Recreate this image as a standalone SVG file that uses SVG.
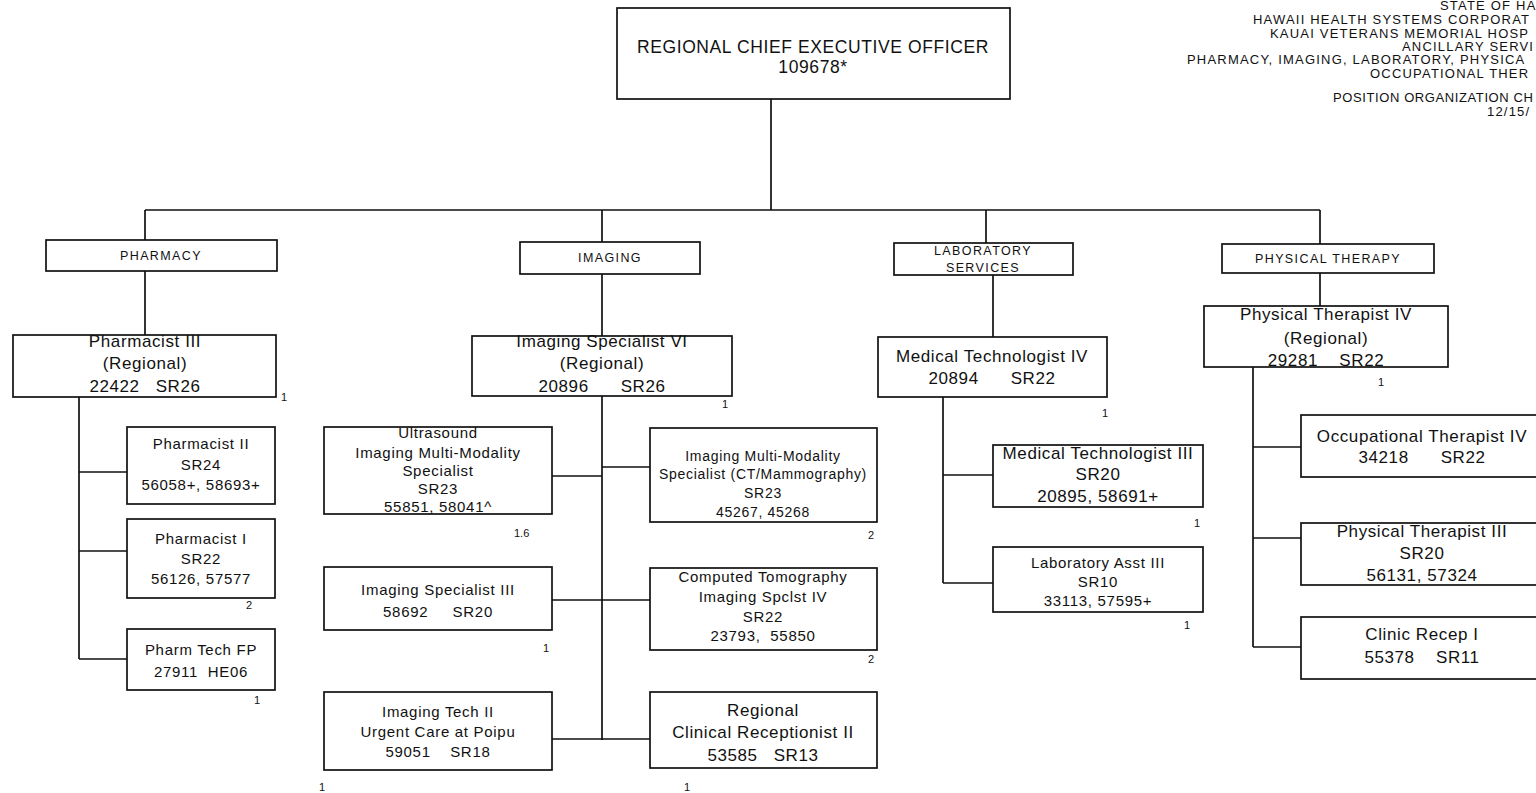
<svg xmlns="http://www.w3.org/2000/svg" width="1536" height="793" viewBox="0 0 1536 793">
<style>
text{font-family:"Liberation Sans",Arial,sans-serif;fill:#111;text-anchor:middle}
.box{fill:#fff;stroke:#111;stroke-width:1.7}
.ln{fill:none;stroke:#111;stroke-width:1.7}
.hdr{font-size:13px;letter-spacing:1.2px;text-anchor:start}
.top{font-size:17.5px;letter-spacing:0.6px}
.dep{font-size:12.5px;letter-spacing:1.4px}
.big{font-size:17px;letter-spacing:0.6px}
.sm{font-size:15px;letter-spacing:0.7px}
.xs{font-size:14px;letter-spacing:0.7px}
.n{font-size:11px;text-anchor:start}
</style>
<rect width="1536" height="793" fill="#fff"/>

<g id="header">
<text class="hdr" x="1440" y="10">STATE OF HA</text>
<text class="hdr" x="1253" y="24">HAWAII HEALTH SYSTEMS CORPORAT</text>
<text class="hdr" x="1270" y="38">KAUAI VETERANS MEMORIAL HOSP</text>
<text class="hdr" x="1402" y="51">ANCILLARY SERVI</text>
<text class="hdr" x="1187" y="64">PHARMACY, IMAGING, LABORATORY, PHYSICA</text>
<text class="hdr" x="1370" y="78">OCCUPATIONAL THER</text>
<text class="hdr" x="1333" y="102" style="letter-spacing:0.6px">POSITION ORGANIZATION CH</text>
<text class="hdr" x="1487" y="116">12/15/</text>
</g>

<g id="connectors">
<path class="ln" d="M771 99V210M145 210H1320"/>
<path class="ln" d="M145 210V240M145 271V335M79 397V659M79 472H127M79 551H127M79 659H127"/>
<path class="ln" d="M602 210V242M602 274V336M602 396V740M552 476H602M552 600H602M552 739H650M602 467H650M602 600H650"/>
<path class="ln" d="M986 210V243M993 275V337M943 397V583M943 475H993M943 583H993"/>
<path class="ln" d="M1320 210V244M1320 273V306M1253 367V647M1253 447H1301M1253 538H1301M1253 647H1301"/>
</g>

<g id="ceo">
<rect class="box" x="617" y="8" width="393" height="91"/>
<text class="top" x="813" y="53">REGIONAL CHIEF EXECUTIVE OFFICER</text>
<text class="top" x="813" y="73">109678*</text>
</g>

<g id="pharmacy">
<rect class="box" x="46" y="240" width="231" height="31"/>
<text class="dep" x="161" y="260">PHARMACY</text>
</g>
<g id="pharmacist3">
<rect class="box" x="13" y="335" width="263" height="62"/>
<text class="big" x="145" y="347">Pharmacist III</text>
<text class="big" x="145" y="369">(Regional)</text>
<text class="big" x="145" y="392" xml:space="preserve">22422   SR26</text>
<text class="n" x="281" y="401">1</text>
</g>
<g id="pharmacist2">
<rect class="box" x="127" y="427" width="148" height="77"/>
<text class="sm" x="201" y="449">Pharmacist II</text>
<text class="sm" x="201" y="470">SR24</text>
<text class="sm" x="201" y="490">56058+, 58693+</text>
</g>
<g id="pharmacist1">
<rect class="box" x="127" y="519" width="148" height="79"/>
<text class="sm" x="201" y="544">Pharmacist I</text>
<text class="sm" x="201" y="564">SR22</text>
<text class="sm" x="201" y="584">56126, 57577</text>
<text class="n" x="246" y="609">2</text>
</g>
<g id="pharmtech">
<rect class="box" x="127" y="629" width="148" height="61"/>
<text class="sm" x="201" y="655">Pharm Tech FP</text>
<text class="sm" x="201" y="677" xml:space="preserve">27911  HE06</text>
<text class="n" x="254" y="704">1</text>
</g>

<g id="imaging">
<rect class="box" x="520" y="242" width="180" height="32"/>
<text class="dep" x="610" y="262">IMAGING</text>
</g>
<g id="imgspec6">
<rect class="box" x="472" y="336" width="260" height="60"/>
<text class="big" x="602" y="347">Imaging Specialist VI</text>
<text class="big" x="602" y="369">(Regional)</text>
<text class="big" x="602" y="392" xml:space="preserve">20896      SR26</text>
<text class="n" x="722" y="408">1</text>
</g>
<g id="ultrasound">
<rect class="box" x="324" y="427" width="228" height="87"/>
<text class="sm" x="438" y="438">Ultrasound</text>
<text class="sm" x="438" y="458">Imaging Multi-Modality</text>
<text class="sm" x="438" y="476">Specialist</text>
<text class="sm" x="438" y="494">SR23</text>
<text class="sm" x="438" y="512">55851, 58041^</text>
<text class="n" x="514" y="537">1.6</text>
</g>
<g id="imgspec3">
<rect class="box" x="324" y="567" width="228" height="63"/>
<text class="sm" x="438" y="595">Imaging Specialist III</text>
<text class="sm" x="438" y="617" xml:space="preserve">58692     SR20</text>
<text class="n" x="543" y="652">1</text>
</g>
<g id="imgtech2">
<rect class="box" x="324" y="692" width="228" height="78"/>
<text class="sm" x="438" y="717">Imaging Tech II</text>
<text class="sm" x="438" y="737">Urgent Care at Poipu</text>
<text class="sm" x="438" y="757" xml:space="preserve">59051    SR18</text>
<text class="n" x="319" y="791">1</text>
</g>
<g id="multimodality">
<rect class="box" x="650" y="428" width="227" height="94"/>
<text class="xs" x="763" y="461">Imaging Multi-Modality</text>
<text class="xs" x="763" y="479">Specialist (CT/Mammography)</text>
<text class="xs" x="763" y="498">SR23</text>
<text class="xs" x="763" y="517">45267, 45268</text>
<text class="n" x="868" y="539">2</text>
</g>
<g id="ct">
<rect class="box" x="650" y="568" width="227" height="82"/>
<text class="sm" x="763" y="582">Computed Tomography</text>
<text class="sm" x="763" y="602">Imaging Spclst IV</text>
<text class="sm" x="763" y="622">SR22</text>
<text class="sm" x="763" y="641" xml:space="preserve">23793,  55850</text>
<text class="n" x="868" y="663">2</text>
</g>
<g id="receptionist">
<rect class="box" x="650" y="692" width="227" height="76"/>
<text class="big" x="763" y="716">Regional</text>
<text class="big" x="763" y="738">Clinical Receptionist II</text>
<text class="big" x="763" y="761" xml:space="preserve">53585   SR13</text>
<text class="n" x="684" y="791">1</text>
</g>

<g id="lab">
<rect class="box" x="894" y="243" width="179" height="32"/>
<text class="dep" x="983" y="255">LABORATORY</text>
<text class="dep" x="983" y="272">SERVICES</text>
</g>
<g id="medtech4">
<rect class="box" x="878" y="337" width="229" height="60"/>
<text class="big" x="992" y="362">Medical Technologist IV</text>
<text class="big" x="992" y="384" xml:space="preserve">20894      SR22</text>
<text class="n" x="1102" y="417">1</text>
</g>
<g id="medtech3">
<rect class="box" x="993" y="445" width="210" height="62"/>
<text class="big" x="1098" y="459">Medical Technologist III</text>
<text class="big" x="1098" y="480">SR20</text>
<text class="big" x="1098" y="502">20895, 58691+</text>
<text class="n" x="1194" y="527">1</text>
</g>
<g id="labasst">
<rect class="box" x="993" y="547" width="210" height="65"/>
<text class="sm" x="1098" y="568">Laboratory Asst III</text>
<text class="sm" x="1098" y="587">SR10</text>
<text class="sm" x="1098" y="606">33113, 57595+</text>
<text class="n" x="1184" y="629">1</text>
</g>

<g id="pt">
<rect class="box" x="1222" y="244" width="212" height="29"/>
<text class="dep" x="1328" y="263">PHYSICAL THERAPY</text>
</g>
<g id="pt4">
<rect class="box" x="1204" y="306" width="244" height="61"/>
<text class="big" x="1326" y="320">Physical Therapist IV</text>
<text class="big" x="1326" y="344">(Regional)</text>
<text class="big" x="1326" y="366" xml:space="preserve">29281    SR22</text>
<text class="n" x="1378" y="386">1</text>
</g>
<g id="ot4">
<rect class="box" x="1301" y="415" width="242" height="62"/>
<text class="big" x="1422" y="442">Occupational Therapist IV</text>
<text class="big" x="1422" y="463" xml:space="preserve">34218      SR22</text>
</g>
<g id="pt3">
<rect class="box" x="1301" y="523" width="242" height="62"/>
<text class="big" x="1422" y="537">Physical Therapist III</text>
<text class="big" x="1422" y="559">SR20</text>
<text class="big" x="1422" y="581">56131, 57324</text>
</g>
<g id="clinicrecep">
<rect class="box" x="1301" y="617" width="242" height="62"/>
<text class="big" x="1422" y="640">Clinic Recep I</text>
<text class="big" x="1422" y="663" xml:space="preserve">55378    SR11</text>
</g>
</svg>
